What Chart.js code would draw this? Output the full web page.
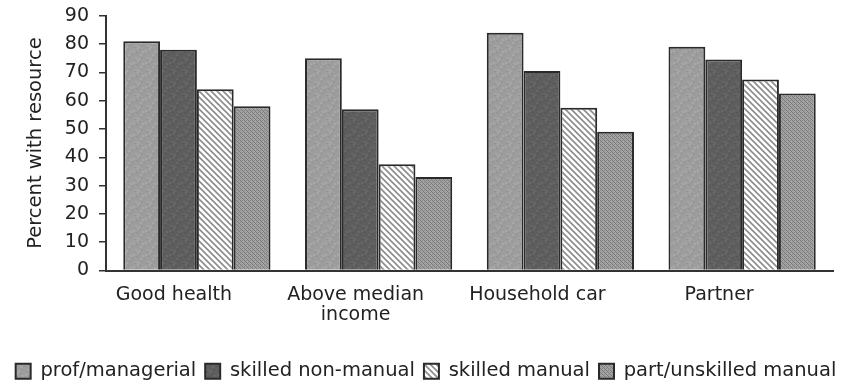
<!DOCTYPE html>
<html>
<head>
<meta charset="utf-8">
<script src="https://cdn.jsdelivr.net/npm/chart.js@4/dist/chart.umd.min.js"></script>
<style>
  html, body { margin: 0; padding: 0; background: #ffffff; }
  #wrap { width: 852px; height: 382px; position: relative; }
</style>
</head>
<body>
<div id="wrap"><canvas id="chart"></canvas></div>
<script>
// Resources by social class
const categories = ['Good health', ['Above median', 'income'], 'Household car', 'Partner'];
const profManagerial = [81, 75, 84, 79];
const skilledNonManual = [78, 57, 70.5, 74.5];
const skilledManual = [64, 37.5, 57.5, 67.5];
const partUnskilledManual = [58, 33, 49, 62.5];
const yTicks = [0, 10, 20, 30, 40, 50, 60, 70, 80, 90];

// Fill textures for the four bar series
function tile(size, paint) {
  const c = document.createElement('canvas');
  c.width = size; c.height = size;
  const g = c.getContext('2d');
  paint(g, size);
  return g.createPattern(c, 'repeat');
}

const mottledLight = tile(12, (g, s) => {
  g.fillStyle = '#9d9d9d';
  g.fillRect(0, 0, s, s);
  g.fillStyle = '#a8a8a8';
  [[1,2],[5,0],[8,6],[3,9],[10,3],[6,10]].forEach(([x, y]) => g.fillRect(x, y, 2, 2));
  g.fillStyle = '#929292';
  [[0,6],[4,4],[9,9],[7,1],[2,11]].forEach(([x, y]) => g.fillRect(x, y, 2, 1));
});

const mottledDark = tile(12, (g, s) => {
  g.fillStyle = '#5e5e5e';
  g.fillRect(0, 0, s, s);
  g.fillStyle = '#686868';
  [[1,2],[5,0],[8,6],[3,9],[10,3],[6,10]].forEach(([x, y]) => g.fillRect(x, y, 2, 2));
  g.fillStyle = '#545454';
  [[0,6],[4,4],[9,9],[7,1],[2,11]].forEach(([x, y]) => g.fillRect(x, y, 2, 1));
});

const hatch = tile(6, (g, s) => {
  g.fillStyle = '#ffffff';
  g.fillRect(0, 0, s, s);
  g.strokeStyle = '#8c8c8c';
  g.lineWidth = 1.6;
  g.beginPath();
  for (let k = -1; k <= 1; k++) {
    g.moveTo(k * s - 1, -1);
    g.lineTo(k * s + s + 1, s + 1);
  }
  g.stroke();
});

const crossDots = tile(4, (g, s) => {
  g.fillStyle = '#a2a2a2';
  g.fillRect(0, 0, s, s);
  g.fillStyle = '#7a7a7a';
  g.fillRect(0, 0, 1, 1);
  g.fillRect(1, 1, 1, 1);
  g.fillRect(2, 2, 1, 1);
  g.fillRect(3, 3, 1, 1);
  g.fillStyle = '#8e8e8e';
  g.fillRect(2, 0, 1, 1);
  g.fillRect(0, 2, 1, 1);
});

const ink = '#222222';
const edge = '#2a2a2a';
const FONT = "'DejaVu Sans', sans-serif";

function series(label, data, fill) {
  return {
    label, data,
    backgroundColor: fill,
    borderColor: edge,
    borderWidth: 2,
    borderSkipped: 'start',
    categoryPercentage: 0.81,
    barPercentage: 1.0
  };
}

new Chart(document.getElementById('chart'), {
  type: 'bar',
  data: {
    labels: categories,
    datasets: [
      series('prof/managerial', profManagerial, mottledLight),
      series('skilled non-manual', skilledNonManual, mottledDark),
      series('skilled manual', skilledManual, hatch),
      series('part/unskilled manual', partUnskilledManual, crossDots)
    ]
  },
  options: {
    responsive: true,
    maintainAspectRatio: false,
    animation: false,
    events: [],
    layout: { padding: { left: 0, right: 0, top: 0, bottom: -9 } },
    plugins: {
      tooltip: { enabled: false },
      legend: {
        position: 'bottom',
        labels: {
          color: ink,
          font: { family: FONT, size: 19.5 },
          boxWidth: 15,
          boxHeight: 15,
          padding: 9
        }
      }
    },
    scales: {
      x: {
        grid: { display: false },
        border: { display: true, color: '#333333', width: 2 },
        ticks: {
          color: ink,
          font: { family: FONT, size: 19, lineHeight: 1.05 },
          padding: 7,
          labelOffset: -23,
          maxRotation: 0,
          autoSkip: false
        },
        afterFit(scale) { scale.height = 82; }
      },
      y: {
        min: 0,
        max: 90,
        afterBuildTicks(scale) { scale.ticks = yTicks.map(v => ({ value: v })); },
        grid: { display: true, drawOnChartArea: false, drawTicks: true, tickLength: 7, color: '#333333', lineWidth: 1.5 },
        border: { display: true, color: '#333333', width: 2 },
        ticks: {
          color: ink,
          font: { family: FONT, size: 19, lineHeight: 0.6 },
          padding: 10,
          stepSize: 10,
          autoSkip: false
        },
        title: {
          display: true,
          text: 'Percent with resource',
          color: ink,
          font: { family: FONT, size: 19.5 },
          padding: { top: 24, bottom: 4 }
        },
        afterFit(scale) { scale.width = 106; }
      },
      // blank strip that keeps the plot clear of the right edge
      rightGap: {
        position: 'right',
        display: true,
        grid: { display: false },
        border: { display: false },
        ticks: { display: false },
        afterFit(scale) { scale.width = 19; }
      }
    }
  }
});
</script>
</body>
</html>
